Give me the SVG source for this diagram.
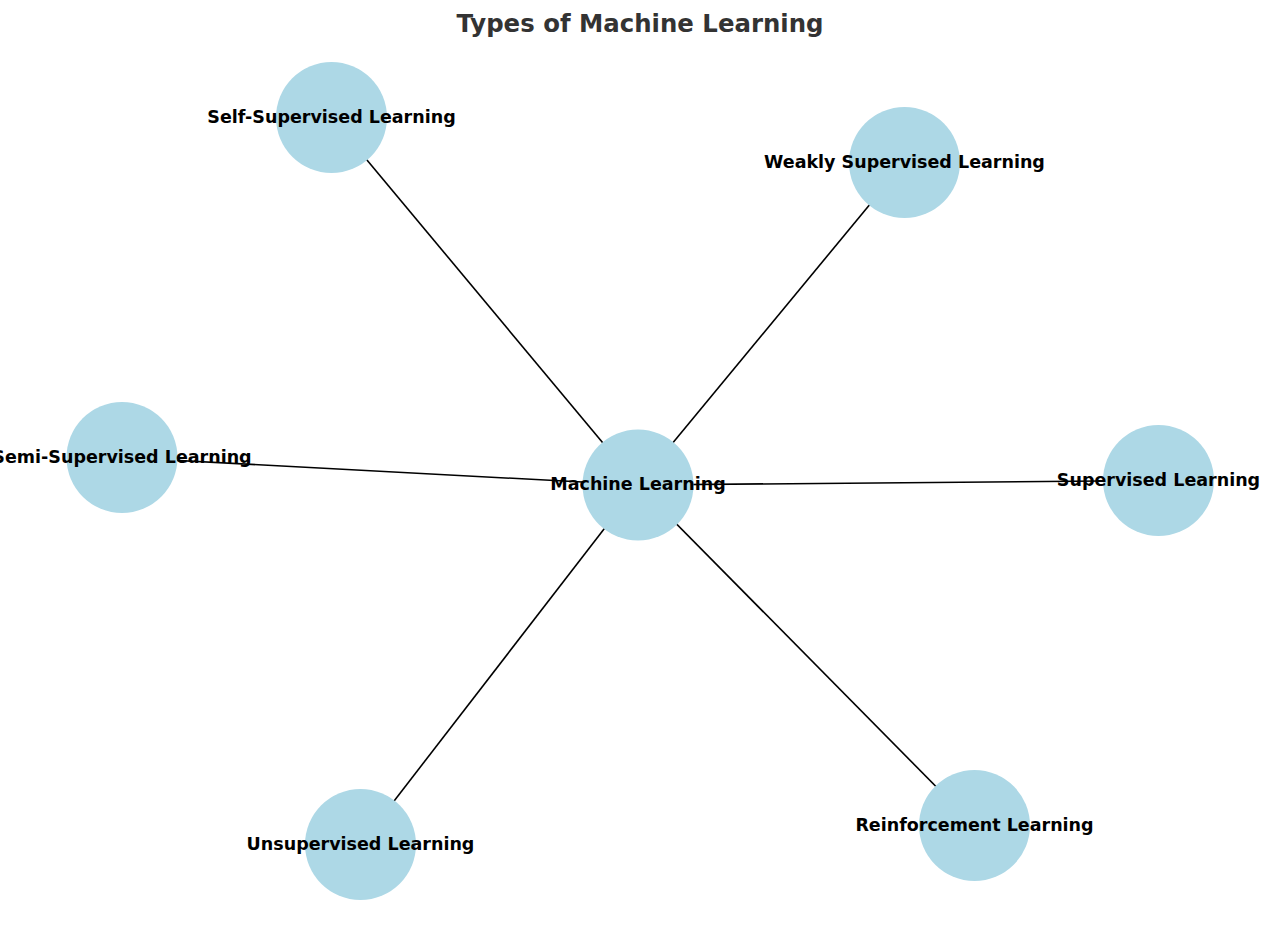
<svg xmlns="http://www.w3.org/2000/svg" width="1280" height="933" viewBox="0 0 1280 933">
<style>
.edge{stroke:#000;stroke-width:1.6;fill:none}
.node circle{fill:#ADD8E6}
.node text{font-family:"DejaVu Sans",sans-serif;font-weight:bold;font-size:17.5px;fill:#000;text-anchor:middle;dominant-baseline:central}
.title{font-family:"DejaVu Sans",sans-serif;font-weight:bold;font-size:24.4px;fill:#333;text-anchor:middle}
</style>
<rect width="1280" height="933" fill="#fff"/>
<text class="title" x="640" y="32">Types of Machine Learning</text>
<g id="edges">
<line class="edge" x1="638" y1="485" x2="331.5" y2="117.5"/>
<line class="edge" x1="638" y1="485" x2="904.5" y2="162.5"/>
<line class="edge" x1="638" y1="485" x2="122" y2="457.5"/>
<line class="edge" x1="638" y1="485" x2="1158.5" y2="480.5"/>
<line class="edge" x1="638" y1="485" x2="360.5" y2="844.5"/>
<line class="edge" x1="638" y1="485" x2="974.5" y2="825.5"/>
</g>
<g id="node-ml" class="node"><circle cx="638" cy="485" r="55.5"/><text x="638" y="484">Machine Learning</text></g>
<g id="node-self" class="node"><circle cx="331.5" cy="117.5" r="55.5"/><text x="331.5" y="116.5">Self-Supervised Learning</text></g>
<g id="node-weak" class="node"><circle cx="904.5" cy="162.5" r="55.5"/><text x="904.5" y="161.5">Weakly Supervised Learning</text></g>
<g id="node-semi" class="node"><circle cx="122" cy="457.5" r="55.5"/><text x="122" y="456.5">Semi-Supervised Learning</text></g>
<g id="node-sup" class="node"><circle cx="1158.5" cy="480.5" r="55.5"/><text x="1158.5" y="479.5">Supervised Learning</text></g>
<g id="node-unsup" class="node"><circle cx="360.5" cy="844.5" r="55.5"/><text x="360.5" y="843.5">Unsupervised Learning</text></g>
<g id="node-rein" class="node"><circle cx="974.5" cy="825.5" r="55.5"/><text x="974.5" y="824.5">Reinforcement Learning</text></g>
</svg>
